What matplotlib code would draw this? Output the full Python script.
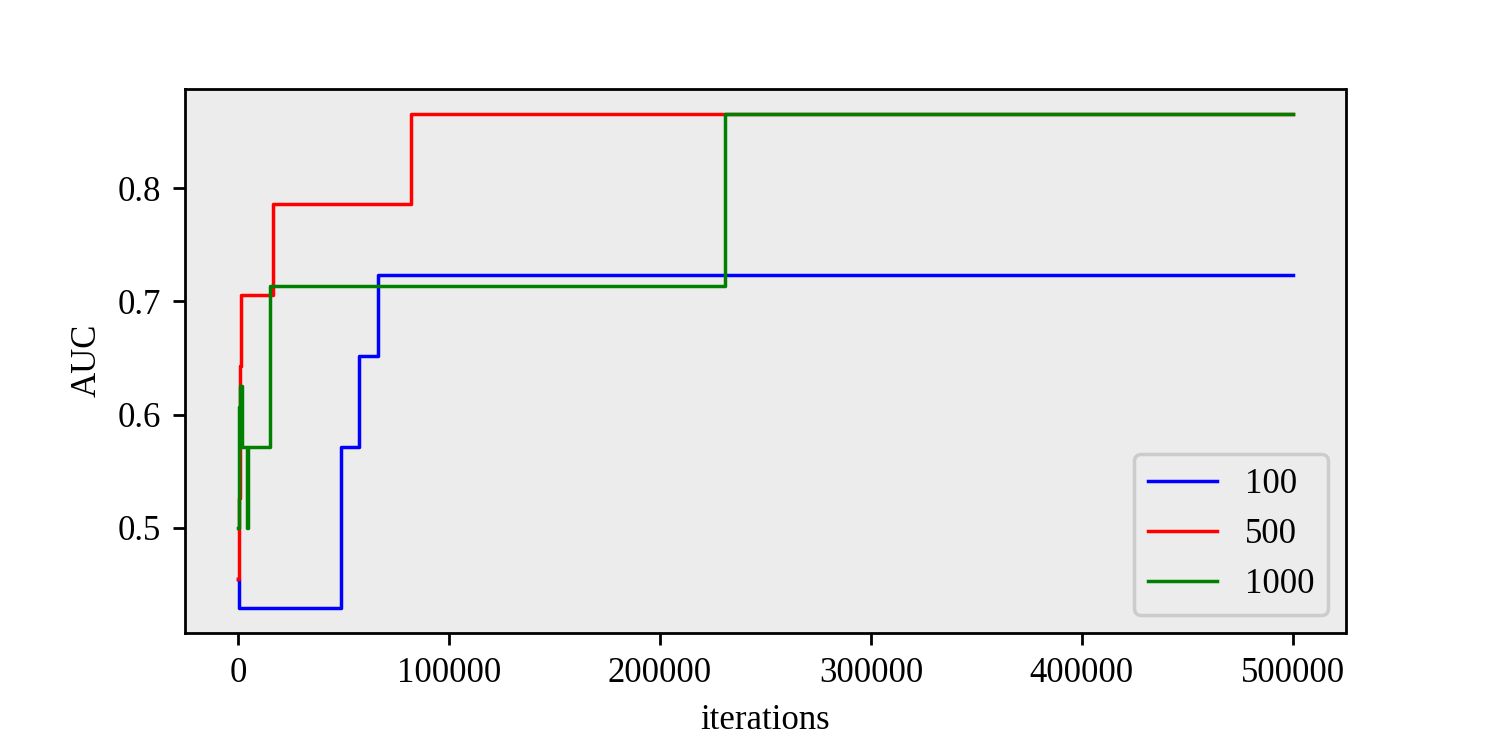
import matplotlib.pyplot as plt

plt.rcParams["font.family"] = ["Liberation Serif", "DejaVu Serif"]

# 每条曲线: 迭代次数 与 当前最佳 AUC (阶梯)
iters_100 = [0, 200, 49000, 57400, 66400, 500000]
auc_100 = [0.455, 0.429, 0.571, 0.652, 0.723, 0.723]

iters_500 = [0, 400, 900, 1500, 16600, 82000, 500000]
auc_500 = [0.455, 0.526, 0.643, 0.706, 0.786, 0.866, 0.866]

iters_1000 = [0, 200, 1000, 2000, 4400, 4700, 15200, 231000, 500000]
auc_1000 = [0.5, 0.607, 0.625, 0.571, 0.5, 0.571, 0.714, 0.866, 0.866]

labels = ["100", "500", "1000"]
colors = ["blue", "red", "green"]

fig, ax = plt.subplots(figsize=(5.98, 2.988), dpi=250)
fig.subplots_adjust(left=0.124, right=0.9, top=0.881, bottom=0.153)
ax.set_facecolor("#ececec")

for xs, ys, lab, c in zip([iters_100, iters_500, iters_1000],
                          [auc_100, auc_500, auc_1000], labels, colors):
    ax.step(xs, ys, where="post", color=c, lw=1.0, label=lab)

ax.set_xlabel("iterations")
ax.set_ylabel("AUC")
ax.set_yticks([0.5, 0.6, 0.7, 0.8])
leg = ax.legend(loc="lower right", facecolor="#ececec", framealpha=1.0)
leg.get_frame().set_edgecolor("#cccccc")

fig.savefig("out.png")
